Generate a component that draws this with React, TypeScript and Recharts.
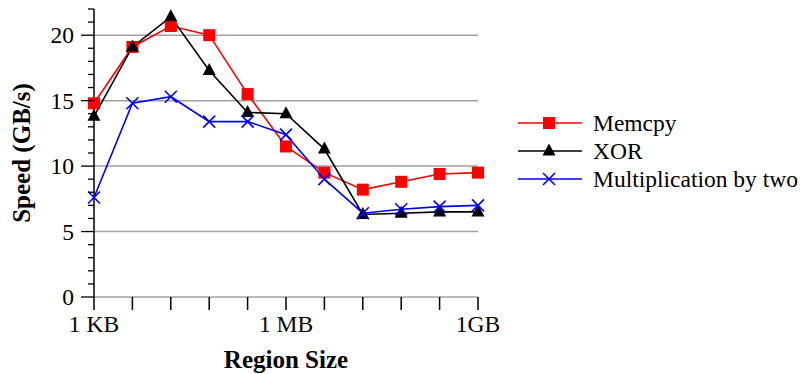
import React from 'react';
import { LineChart, Line, XAxis, YAxis, ReferenceLine, Legend } from 'recharts';

const regionSizes = ['1 KB', '4 KB', '16 KB', '64 KB', '256 KB', '1 MB', '4 MB', '16 MB', '64 MB', '256 MB', '1GB'];
const shownSizeLabels = ['1 KB', '1 MB', '1GB'];
const memcpy = [14.8, 19.1, 20.7, 20.0, 15.5, 11.5, 9.5, 8.2, 8.8, 9.4, 9.5];
const xor = [13.8, 19.1, 21.4, 17.3, 14.1, 14.0, 11.3, 6.3, 6.4, 6.5, 6.5];
const multByTwo = [7.6, 14.8, 15.3, 13.4, 13.4, 12.4, 9.0, 6.4, 6.7, 6.9, 7.0];
const yTicks = [0, 1, 2, 3, 4, 5, 6, 7, 8, 9, 10, 11, 12, 13, 14, 15, 16, 17, 18, 19, 20, 21, 22];
const gridValues = [0, 5, 10, 15, 20];

const data = regionSizes.map((s, i) => ({ idx: i, size: s, memcpy: memcpy[i], xor: xor[i], mult: multByTwo[i] }));

const FONT = '"Liberation Serif", "Times New Roman", serif';
const Y_TICK = 13;

const Square = (props: any) => {
  const { cx, cy } = props;
  if (cx == null || cy == null) return null;
  return <rect x={cx - 6} y={cy - 6} width={12} height={12} fill="#ff0000" />;
};
const Tri = (props: any) => {
  const { cx, cy } = props;
  if (cx == null || cy == null) return null;
  return <polygon points={`${cx},${cy - 7.5} ${cx - 6.5},${cy + 4.5} ${cx + 6.5},${cy + 4.5}`} fill="#000" />;
};
const Cross = (props: any) => {
  const { cx, cy } = props;
  if (cx == null || cy == null) return null;
  const r = 6;
  return (
    <g stroke="#0000ff" strokeWidth={1.6}>
      <line x1={cx - r} y1={cy - r} x2={cx + r} y2={cy + r} />
      <line x1={cx - r} y1={cy + r} x2={cx + r} y2={cy - r} />
    </g>
  );
};

const YTick = (props: any) => {
  const { x, y, payload } = props;
  const v = payload.value;
  const major = v % 5 === 0;
  const axisX = x + Y_TICK;
  return (
    <g>
      <line x1={major ? axisX - 13 : axisX - 6} y1={y} x2={axisX} y2={y} stroke="#000" strokeWidth={1.3} />
      {major && (
        <text x={x - 7} y={y} dy="0.35em" textAnchor="end" fill="#000" fontSize={23.5} fontFamily={FONT}>
          {String(v)}
        </text>
      )}
    </g>
  );
};

const legendItems = [
  { name: 'Memcpy', color: '#ff0000', Marker: Square },
  { name: 'XOR', color: '#000000', Marker: Tri },
  { name: 'Multiplication by two', color: '#0000ff', Marker: Cross },
];

const LegendContent = () => (
  <div style={{ fontFamily: FONT, fontSize: 23.5, color: '#000', lineHeight: '28px' }}>
    {legendItems.map((it) => (
      <div key={it.name} style={{ display: 'flex', alignItems: 'center', height: 28, whiteSpace: 'nowrap' }}>
        <svg width={76} height={20} style={{ flex: 'none' }}>
          <line x1={1} y1={10} x2={65} y2={10} stroke={it.color} strokeWidth={1.6} />
          <it.Marker cx={32} cy={10} />
        </svg>
        <span>{it.name}</span>
      </div>
    ))}
  </div>
);

const xTickFmt = (v: number) => {
  const s = regionSizes[v];
  return shownSizeLabels.includes(s) ? s : '';
};

export default function App() {
  return (
    <div style={{ position: 'absolute', left: 0, top: 0, background: '#fff' }}>
      <LineChart width={806} height={374} data={data} margin={{ top: 9, right: 328, bottom: 0, left: 0 }}>
        {gridValues.map((g) => (
          <ReferenceLine key={g} y={g} stroke="#a0a0a0" strokeWidth={1.5} ifOverflow="extendDomain" />
        ))}
        <XAxis
          dataKey="idx"
          type="number"
          domain={[0, 10]}
          ticks={data.map((d) => d.idx)}
          tickFormatter={xTickFmt}
          interval={0}
          axisLine={false}
          tickLine={{ stroke: '#000', strokeWidth: 1.5 }}
          tickSize={13}
          tickMargin={5}
          height={77}
          tick={{ fill: '#000', fontSize: 23.5, fontFamily: FONT }}
          label={{ value: 'Region Size', position: 'insideBottom', offset: 6, style: { fill: '#000', fontSize: 25, fontWeight: 'bold', fontFamily: FONT } }}
        />
        <YAxis
          type="number"
          domain={[0, 22]}
          ticks={yTicks}
          interval={0}
          width={94}
          axisLine={{ stroke: '#000', strokeWidth: 1.5 }}
          tickLine={false}
          tickSize={Y_TICK}
          tickMargin={0}
          tick={<YTick />}
          label={{ value: 'Speed (GB/s)', angle: -90, position: 'insideLeft', offset: 21, style: { fill: '#000', fontSize: 25, fontWeight: 'bold', fontFamily: FONT, textAnchor: 'middle' } }}
        />
        <Legend
          layout="vertical"
          verticalAlign="middle"
          align="center"
          content={<LegendContent />}
          wrapperStyle={{ left: 517, top: 109, width: 300 }}
        />
        <Line dataKey="memcpy" name="Memcpy" stroke="#ff0000" strokeWidth={1.6} dot={<Square />} isAnimationActive={false} />
        <Line dataKey="xor" name="XOR" stroke="#000000" strokeWidth={1.6} dot={<Tri />} isAnimationActive={false} />
        <Line dataKey="mult" name="Multiplication by two" stroke="#0000ff" strokeWidth={1.6} dot={<Cross />} isAnimationActive={false} />
      </LineChart>
    </div>
  );
}
